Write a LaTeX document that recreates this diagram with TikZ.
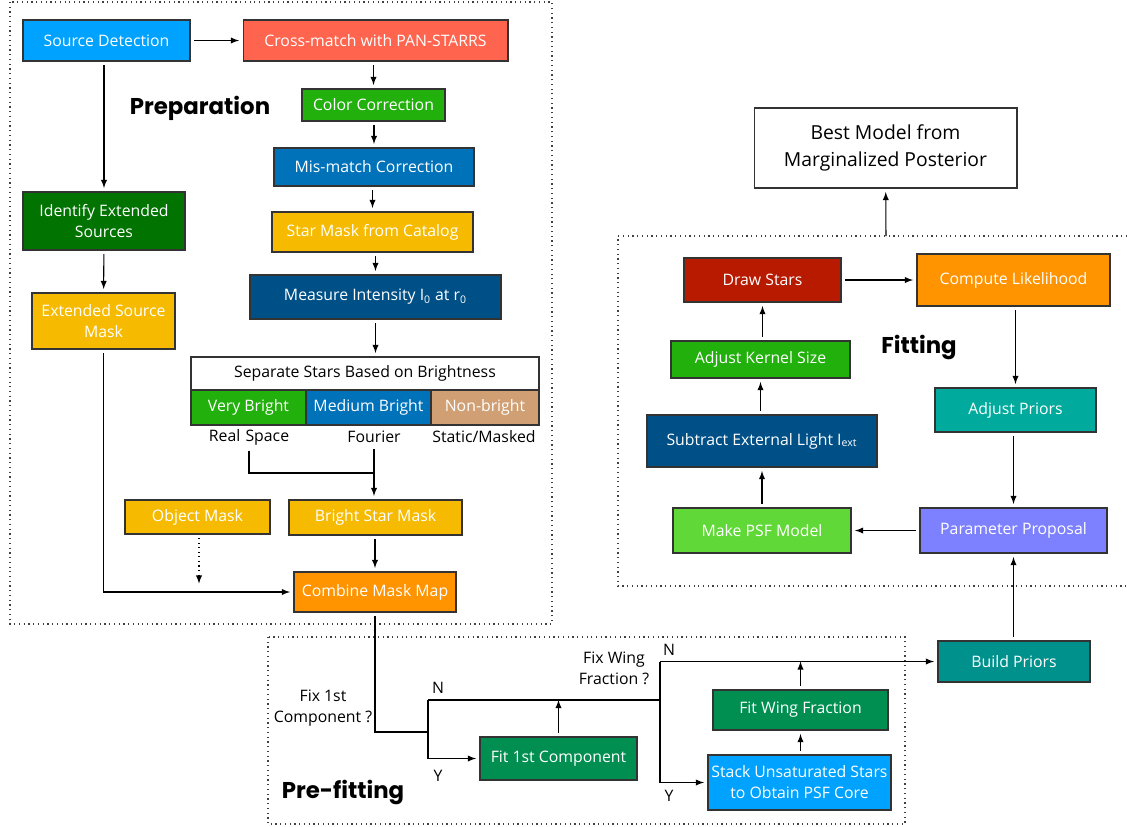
\documentclass[tikz,border=0pt]{standalone}
\usepackage{fontspec}
\setmainfont{Open Sans}
\newfontfamily\headfont{Poppins}
\usetikzlibrary{arrows}

\definecolor{skyblue}{RGB}{0,162,255}
\definecolor{salmon}{RGB}{255,100,78}
\definecolor{brightgreen}{RGB}{34,176,12}
\definecolor{midblue}{RGB}{0,114,186}
\definecolor{gold}{RGB}{246,187,0}
\definecolor{navy}{RGB}{0,80,136}
\definecolor{darkgreen}{RGB}{0,115,0}
\definecolor{tan}{RGB}{208,159,115}
\definecolor{orangebox}{RGB}{255,147,0}
\definecolor{midgreen}{RGB}{0,143,80}
\definecolor{tealbox}{RGB}{0,145,140}
\definecolor{lightteal}{RGB}{0,170,156}
\definecolor{darkred}{RGB}{184,26,0}
\definecolor{lime}{RGB}{96,216,55}
\definecolor{periwinkle}{RGB}{126,129,255}

\begin{document}
\begin{tikzpicture}[x=0.02cm,y=-0.02cm,
  box/.style={rectangle,draw=black!80,line width=0.6pt,text=white,
    font=\fontsize{9}{12}\selectfont,align=center,inner sep=1pt},
  plain/.style={font=\fontsize{9}{12}\selectfont,align=center,inner sep=1pt},
  region/.style={draw=black!75,dotted,line width=0.7pt},
  heading/.style={font=\headfont\bfseries\fontsize{13}{15}\selectfont},
  arr/.style={-latex,line width=0.6pt,shorten >=2pt,shorten <=2pt},
  wire/.style={line width=0.6pt}]

\useasboundingbox (0,0) rectangle (1127,826);

% regions
\draw[region] (10,2) rectangle (552,624);
\draw[region] (268,637) rectangle (905,824);
\draw[region] (1127,236) -- (618,236) -- (618,586) -- (1127,586);

\node[heading] (hprep) at (200,108) {Preparation};
\node[heading] (hpre) at (343,792) {Pre-fitting};
\node[heading] (hfit) at (919,347) {Fitting};

% preparation
\node[box,fill=skyblue,minimum width=3.34cm,minimum height=0.82cm] (src) at (106.5,40.5) {Source Detection};
\node[box,fill=salmon,minimum width=5.30cm,minimum height=0.82cm] (xmatch) at (375.5,40.5) {Cross-match with PAN-STARRS};
\node[box,fill=brightgreen,minimum width=2.86cm,minimum height=0.64cm] (colcor) at (373.5,105) {Color Correction};
\node[box,fill=midblue,minimum width=4.00cm,minimum height=0.76cm] (mismatch) at (374,167) {Mis-match Correction};
\node[box,fill=gold,minimum width=4.02cm,minimum height=0.80cm] (starmask) at (372.5,232) {Star Mask from Catalog};
\node[box,fill=navy,minimum width=5.02cm,minimum height=0.88cm] (measure) at (375.5,297) {Measure Intensity I\textsubscript{0} at r\textsubscript{0}};
\node[box,fill=white,text=black,minimum width=6.96cm,minimum height=0.66cm] (sephead) at (365,373.5) {Separate Stars Based on Brightness};
\node[box,fill=brightgreen,minimum width=2.30cm,minimum height=0.70cm] (vbright) at (248.5,407.5) {Very Bright};
\node[box,fill=midblue,minimum width=2.50cm,minimum height=0.70cm] (mbright) at (368.5,407.5) {Medium Bright};
\node[box,fill=tan,minimum width=2.16cm,minimum height=0.70cm] (nbright) at (485,407.5) {Non-bright};
\draw[draw=black!80,line width=0.8pt] (sephead.north west) rectangle (nbright.south east);
\node[plain] (lreal) at (249,437) {Real\,\,Space};
\node[plain] (lfour) at (374,437) {Fourier};
\node[plain] (lstat) at (484,437) {Static/Masked};
\node[box,fill=gold,minimum width=2.90cm,minimum height=0.68cm] (objmask) at (197.5,517) {Object Mask};
\node[box,fill=gold,minimum width=3.46cm,minimum height=0.70cm] (bsmask) at (375.5,517.5) {Bright Star Mask};
\node[box,fill=orangebox,minimum width=3.24cm,minimum height=0.80cm] (combine) at (375,592) {Combine Mask Map};
\node[box,fill=darkgreen,minimum width=3.24cm,minimum height=1.16cm] (identify) at (104,221) {Identify Extended\\Sources};
\node[box,fill=gold,minimum width=2.86cm,minimum height=1.12cm] (extmask) at (103.5,321) {Extended Source\\Mask};

\coordinate (merge) at (374,473);
\coordinate (objend) at (199,587);

\draw[arr] (src) -- (xmatch);
\draw[arr] (xmatch.south -| colcor) -- (colcor);
\draw[arr] (colcor.south -| mismatch) -- (mismatch);
\draw[arr] (mismatch.south -| starmask) -- (starmask);
\draw[arr] (starmask.south -| measure) -- (measure);
\draw[arr] (measure.south) -- (measure.south |- sephead.north);
\draw[arr] (src.south -| identify) -- (identify);
\draw[arr] (identify) -- (extmask);
\draw[wire,shorten <=2pt] (lreal.south) |- (merge);
\draw[arr] (lfour.south) -- (lfour.south |- bsmask.north);
\draw[arr] (bsmask.south -| combine) -- (combine);
\draw[arr,dotted] (objmask.south -| objend) -- (objend);
\draw[arr] (extmask.south) |- (combine.west);

% pre-fitting
\node[box,fill=midgreen,minimum width=3.14cm,minimum height=0.86cm] (fit1) at (558.5,758.5) {Fit 1st Component};
\node[box,fill=midgreen,minimum width=3.50cm,minimum height=0.80cm] (fitwing) at (800.5,710) {Fit Wing Fraction};
\node[box,fill=skyblue,minimum width=3.66cm,minimum height=1.10cm] (stack) at (799.5,782.5) {Stack Unsaturated Stars\\to Obtain PSF Core};
\node[box,fill=tealbox,minimum width=3.04cm,minimum height=0.82cm] (priors) at (1014,661.5) {Build Priors};
\node[plain] (q1) at (323,708) {Fix 1st\\Component ?};
\node[plain] (q2) at (614,668) {Fix Wing\\Fraction ?};
\node[plain] (n1) at (438,688) {N};
\node[plain] (y1) at (438,776) {Y};
\node[plain] (n2) at (669,650) {N};
\node[plain] (y2) at (669,796) {Y};

\coordinate (j1) at (428,732);
\coordinate (j1n) at (428,700);
\coordinate (j1y) at (428,758.5);
\coordinate (j2) at (660,700);
\coordinate (j2n) at (660,661.5);
\coordinate (j2y) at (660,782.5);

\draw[wire,shorten <=2pt] (combine.south) |- (j1);
\draw[wire] (j1n) -- (j1y);
\draw[arr,shorten <=0pt] (j1y) -- (fit1);
\draw[wire] (j1n) -- (j2);
\draw[arr,shorten >=0pt] (fit1.north) -- (fit1.north |- j1n);
\draw[wire] (j2n) -- (j2y);
\draw[arr,shorten <=0pt] (j2n) -- (priors);
\draw[arr,shorten <=0pt] (j2y) -- (stack);
\draw[arr,shorten >=0pt] (fitwing.north) -- (fitwing.north |- j2n);
\draw[arr] (stack.north -| fitwing) -- (fitwing);

% fitting
\node[box,fill=white,text=black,font=\fontsize{11}{15}\selectfont,minimum width=5.26cm,minimum height=1.60cm] (best) at (885.5,148) {Best Model from\\Marginalized Posterior};
\node[box,fill=darkred,minimum width=3.14cm,minimum height=0.88cm] (draw) at (762.5,280) {Draw Stars};
\node[box,fill=orangebox,minimum width=3.86cm,minimum height=1.04cm] (lik) at (1013.5,280) {Compute Likelihood};
\node[box,fill=brightgreen,minimum width=3.58cm,minimum height=0.74cm] (kernel) at (760.5,359.5) {Adjust Kernel Size};
\node[box,fill=navy,minimum width=4.60cm,minimum height=1.04cm] (subtract) at (762,441) {Subtract External Light I\textsubscript{ext}};
\node[box,fill=lightteal,minimum width=3.22cm,minimum height=0.88cm] (adjpri) at (1015.5,410) {Adjust Priors};
\node[box,fill=lime,minimum width=3.56cm,minimum height=0.90cm] (psf) at (762,530.5) {Make PSF Model};
\node[box,fill=periwinkle,minimum width=3.74cm,minimum height=0.90cm] (prop) at (1013.5,530.5) {Parameter Proposal};

\coordinate (fittop) at (886,236);

\draw[arr,shorten <=0pt] (fittop) -- (best);
\draw[arr] (draw) -- (lik);
\draw[arr] (kernel.north -| draw) -- (draw);
\draw[arr] (subtract.north -| kernel) -- (kernel);
\draw[arr] (psf.north -| subtract) -- (subtract);
\draw[arr] (lik.south -| adjpri) -- (adjpri);
\draw[arr] (adjpri.south -| prop) -- (prop);
\draw[arr] (prop) -- (psf);
\draw[arr] (priors.north -| prop) -- (prop);

\end{tikzpicture}
\end{document}
